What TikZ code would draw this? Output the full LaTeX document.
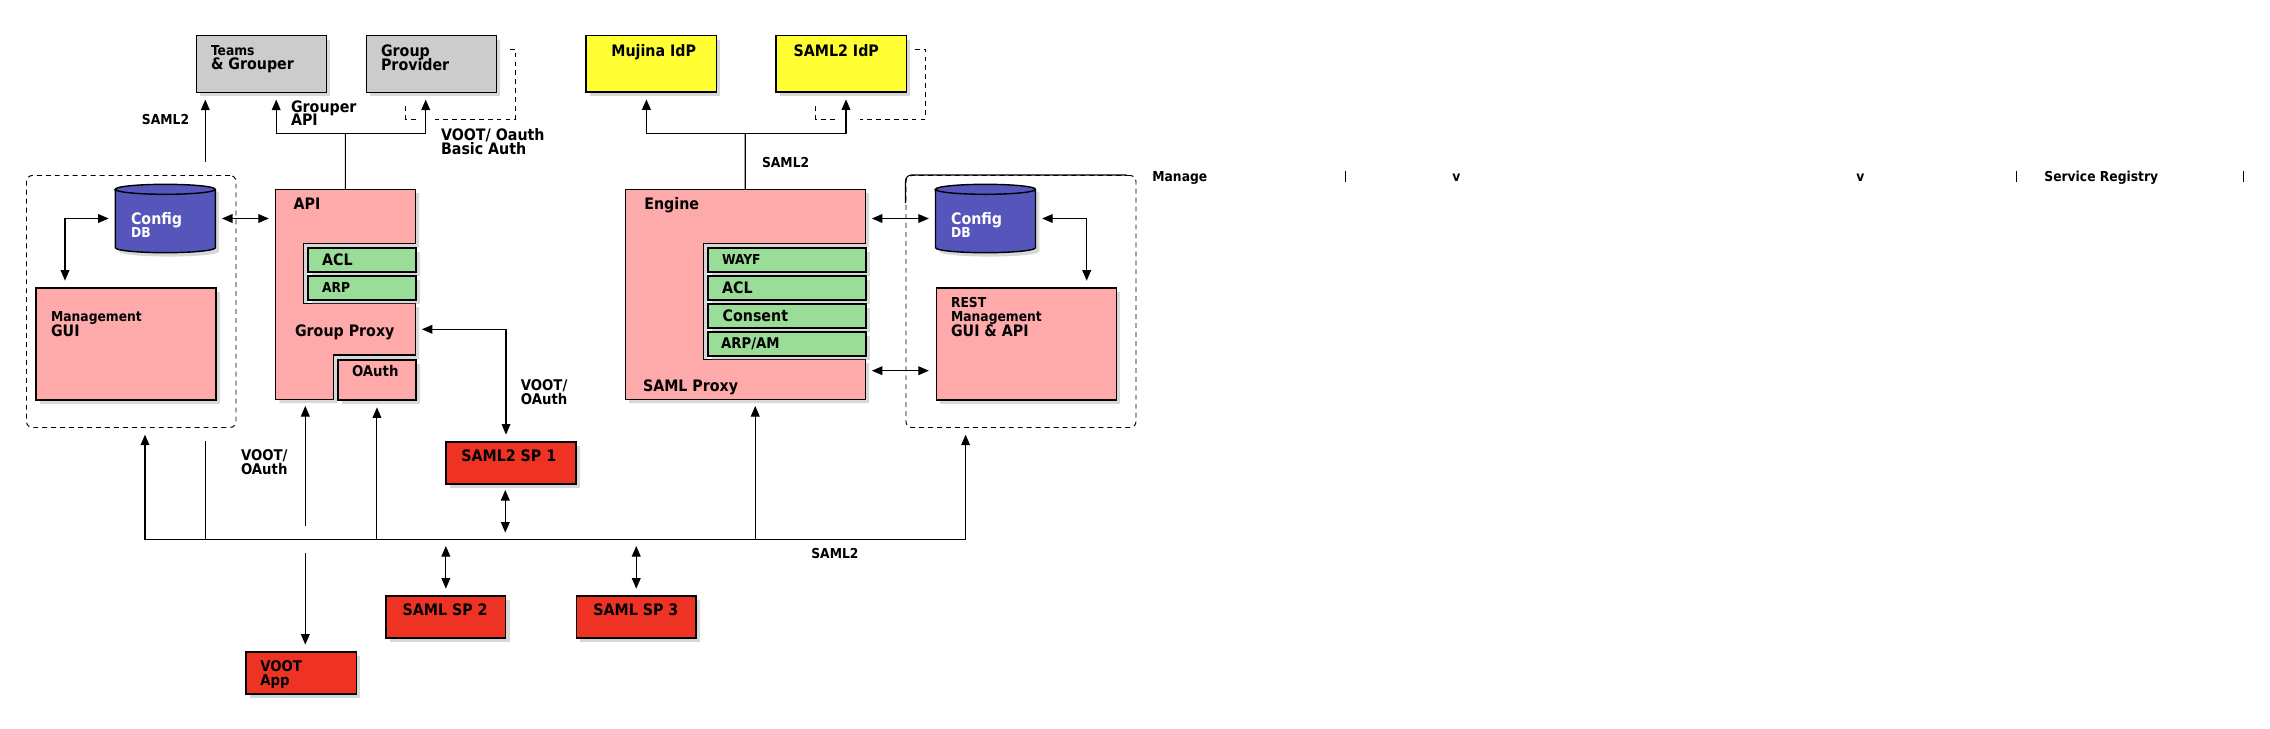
\documentclass[tikz,border=0pt]{standalone}
\usepackage{fontspec}
\setmainfont{DejaVu Sans Condensed}
\usepackage{tikz}
\usetikzlibrary{arrows.meta, positioning, shadows}
\definecolor{GroupGray}{RGB}{204,204,204}
\definecolor{IdpYellow}{RGB}{255,255,51}
\definecolor{ProxyPink}{RGB}{255,170,170}
\definecolor{PluginGreen}{RGB}{153,221,153}
\definecolor{DbBlue}{RGB}{85,85,187}
\definecolor{SpRed}{RGB}{238,51,36}
\newcommand{\lgtxt}{\fontsize{9}{7.9}\selectfont\bfseries\lineskiplimit=-50pt\lineskip=0pt}
\newcommand{\mdtxt}{\fontsize{8.4}{7.9}\selectfont\bfseries\lineskiplimit=-50pt\lineskip=0pt}
\newcommand{\smtxt}{\fontsize{7.8}{7.9}\selectfont\bfseries\lineskiplimit=-50pt\lineskip=0pt}
\tikzstyle{box} = [draw, line width=0.8pt, anchor=north west, inner sep=0pt, drop shadow={shadow xshift=2.2pt, shadow yshift=-2.2pt, opacity=0.3}]
\tikzstyle{grpbox} = [draw, dash pattern=on 2.8pt off 2.3pt, line width=0.55pt, rounded corners=3.4pt, anchor=north west, inner sep=0pt]
\tikzstyle{hold} = [anchor=north west, inner sep=0pt, outer sep=0pt]
\tikzstyle{lbl} = [anchor=north west, inner sep=0pt, align=left, font=\lgtxt]
\tikzstyle{arr} = [line width=0.6pt, -{Triangle[length=6pt,width=5pt]}, shorten >=3.8pt]
\tikzstyle{darr} = [line width=0.6pt, {Triangle[length=6pt,width=5pt]}-{Triangle[length=6pt,width=5pt]}, shorten >=3.8pt, shorten <=3.8pt]
\tikzstyle{fb} = [line width=0.5pt, dash pattern=on 2.8pt off 2.3pt]

\begin{document}
\begin{tikzpicture}[x=0.2mm, y=-0.2mm]
\fill[white] (0,0) rectangle (2270,728);
\useasboundingbox (0,0) rectangle (2270,728);

% groups
\node[grpbox, minimum width=41.9mm, minimum height=50.4mm] (grpL) at (26,175) {};
\node[grpbox, minimum width=46mm, minimum height=50.4mm] (grpR) at (905.5,175) {};
\draw[line width=0.6pt] (905.5,203) -- (905.5,181) arc[start angle=180, end angle=90, radius=1.2mm] -- (1126.7,175);

% top row
\node[box, fill=GroupGray, minimum width=26mm, minimum height=11.3mm] (teams) at (195.5,35) {};
\node[box, fill=GroupGray, minimum width=26mm, minimum height=11.3mm] (provider) at (365.5,35) {};
\node[box, fill=IdpYellow, minimum width=26.08mm, minimum height=11.26mm] (mujina) at (585.3,35) {};
\node[box, fill=IdpYellow, minimum width=26.08mm, minimum height=11.26mm] (samlidp) at (775.3,35) {};
\node[lbl, font={\lgtxt\baselineskip=8.1pt}] (teamsT) at (210.7,44.7) {{\smtxt Teams}\\\& Grouper};
\node[lbl] (providerT) at (380.7,44.2) {Group\\Provider};
\node[lbl] (mujinaT) at (611,44.2) {Mujina IdP};
\node[lbl] (samlidpT) at (793.3,44.2) {SAML2 IdP};

% config databases
\node[hold, minimum width=20mm, minimum height=13.68mm] (cfgL) at (115.3,184.3) {};
\node[hold, minimum width=20mm, minimum height=13.68mm] (cfgR) at (935.5,184.3) {};
\filldraw[fill=DbBlue, line width=0.8pt, drop shadow={shadow xshift=2.2pt, shadow yshift=-2.2pt, opacity=0.3}] (115.3,189.3) -- (115.3,247.7) arc[start angle=180, end angle=360, x radius=10mm, y radius=1mm] -- (215.3,189.3) arc[start angle=0, end angle=180, x radius=10mm, y radius=1mm] -- cycle;
\draw[line width=0.8pt] (115.3,189.3) arc[start angle=180, end angle=360, x radius=10mm, y radius=1mm];
\filldraw[fill=DbBlue, line width=0.8pt, drop shadow={shadow xshift=2.2pt, shadow yshift=-2.2pt, opacity=0.3}] (935.5,189.3) -- (935.5,247.7) arc[start angle=180, end angle=360, x radius=10mm, y radius=1mm] -- (1035.5,189.3) arc[start angle=0, end angle=180, x radius=10mm, y radius=1mm] -- cycle;
\draw[line width=0.8pt] (935.5,189.3) arc[start angle=180, end angle=360, x radius=10mm, y radius=1mm];
\node[lbl, text=white, font={\lgtxt\baselineskip=7.1pt}] (cfgLT) at (130.7,212.5) {Config\\{\smtxt DB}};
\node[lbl, text=white, font={\lgtxt\baselineskip=7.1pt}] (cfgRT) at (950.7,212.5) {Config\\{\smtxt DB}};

% management
\node[box, fill=ProxyPink, minimum width=36mm, minimum height=22.4mm] (mgmt) at (35.3,287.3) {};
\node[box, fill=ProxyPink, minimum width=36.04mm, minimum height=22.4mm] (rest) at (935.5,287.3) {};
\node[lbl, font={\lgtxt\baselineskip=8.6pt}] (mgmtT) at (50.7,310.7) {{\smtxt Management}\\GUI};
\node[lbl] (restT) at (950.7,296.7) {{\smtxt REST}\\{\smtxt Management}\\[0.7pt]GUI \& API};

% group proxy
\node[hold, minimum width=27.94mm, minimum height=42mm] (api) at (275.5,189.3) {};
\filldraw[fill=ProxyPink, line width=0.8pt, drop shadow={shadow xshift=2.2pt, shadow yshift=-2.2pt, opacity=0.3}] (275.5,189.3) -- (415.2,189.3) -- (415.2,243.3) -- (303.5,243.3) -- (303.5,303.3) -- (415.2,303.3) -- (415.2,355) -- (333.3,355) -- (333.3,399.3) -- (275.5,399.3) -- cycle;
\node[box, fill=PluginGreen, minimum width=21.58mm, minimum height=4.8mm] (aclA) at (307.3,247.3) {};
\node[box, fill=PluginGreen, minimum width=21.58mm, minimum height=4.8mm] (arpA) at (307.3,275.3) {};
\node[box, fill=ProxyPink, minimum width=15.58mm, minimum height=8mm] (oauth) at (337.3,359.3) {};
\node[lbl] (apiT) at (293.3,197.5) {API};
\node[lbl] (aclAT) at (321.7,253.2) {ACL};
\node[lbl, font=\smtxt] (arpAT) at (321.7,282) {ARP};
\node[lbl] (gproxyT) at (294.7,324.2) {Group Proxy};
\node[lbl, font=\mdtxt] (oauthT) at (351.7,365.2) {OAuth};

% saml proxy
\node[hold, minimum width=47.98mm, minimum height=42mm] (engine) at (625.3,189.3) {};
\filldraw[fill=ProxyPink, line width=0.8pt, drop shadow={shadow xshift=2.2pt, shadow yshift=-2.2pt, opacity=0.3}] (625.3,189.3) -- (865.2,189.3) -- (865.2,243.3) -- (703.3,243.3) -- (703.3,359.3) -- (865.2,359.3) -- (865.2,399.3) -- (625.3,399.3) -- cycle;
\node[box, fill=PluginGreen, minimum width=31.58mm, minimum height=4.8mm] (wayf) at (707.3,247.3) {};
\node[box, fill=PluginGreen, minimum width=31.58mm, minimum height=4.8mm] (aclB) at (707.3,275.3) {};
\node[box, fill=PluginGreen, minimum width=31.58mm, minimum height=4.8mm] (consent) at (707.3,303.3) {};
\node[box, fill=PluginGreen, minimum width=31.58mm, minimum height=4.8mm] (arpB) at (707.3,331.3) {};
\node[lbl] (engineT) at (644,197.5) {Engine};
\node[lbl, font=\smtxt] (wayfT) at (721.7,254) {WAYF};
\node[lbl] (aclBT) at (721.7,281.2) {ACL};
\node[lbl] (consentT) at (722.3,309.8) {Consent};
\node[lbl, font=\mdtxt] (arpBT) at (720.7,337.7) {ARP/AM};
\node[lbl] (sproxyT) at (642.7,379.8) {SAML Proxy};

% service providers
\node[box, fill=SpRed, minimum width=26mm, minimum height=8.4mm] (sp1) at (445.3,441.3) {};
\node[box, fill=SpRed, minimum width=23.94mm, minimum height=8.4mm] (sp2) at (385.3,595.3) {};
\node[box, fill=SpRed, minimum width=23.86mm, minimum height=8.4mm] (sp3) at (575.9,595.3) {};
\node[box, fill=SpRed, minimum width=22.08mm, minimum height=8.4mm] (voot) at (245.3,651.3) {};
\node[lbl] (sp1T) at (461,449.8) {SAML2 SP 1};
\node[lbl] (sp2T) at (402.3,603.5) {SAML SP 2};
\node[lbl] (sp3T) at (593,603.5) {SAML SP 3};
\node[lbl, font={\mdtxt\baselineskip=7.7pt}] (vootT) at (260,660.3) {VOOT\\App};

% connector labels
\node[lbl, font=\smtxt] (samlA) at (141.6,114.3) {SAML2};
\node[lbl, font={\lgtxt\baselineskip=7.5pt}] (grouperT) at (290.7,100.2) {Grouper\\API};
\node[lbl, font={\lgtxt\baselineskip=7.8pt}] (vootA) at (440.7,128.2) {VOOT/ Oauth\\Basic Auth};
\node[lbl, font=\smtxt] (samlB) at (761.7,156.7) {SAML2};
\node[lbl, font={\mdtxt\baselineskip=7.5pt}] (vootB) at (520.5,379.6) {VOOT/\\OAuth};
\node[lbl, font={\mdtxt\baselineskip=7.9pt}] (vootC) at (240.7,449.6) {VOOT/\\OAuth};
\node[lbl, font=\smtxt] (samlC) at (811,548.3) {SAML2};

% registry header
\node[anchor=base west, inner sep=0pt, font=\smtxt] (hdrA) at (1152,181.7) {Manage};
\node[anchor=base west, inner sep=0pt, font=\smtxt] (hdrB) at (1452,181.7) {v};
\node[anchor=base west, inner sep=0pt, font=\smtxt] (hdrC) at (1856,181.7) {v};
\node[anchor=base west, inner sep=0pt, font=\smtxt] (hdrD) at (2044,181.7) {Service Registry};
\foreach \xb in {1345,2016,2243}
  \draw[line width=0.5pt] (\xb,170.7) -- (\xb,181.7);

% connectors
\coordinate (tsamlTop) at (205.3,161.7);
\coordinate (tsamlBot) at (205.3,441.3);
\coordinate (busL) at (145,539.3);
\coordinate (busR) at (965.6,539.3);
\coordinate (gfork) at (345.35,133.3);
\coordinate (efork) at (745.25,133.3);
\coordinate (gpE) at (415.2,329.3);
\coordinate (spE) at (865.2,370.7);
\coordinate (vootUp) at (305.3,525.7);
\coordinate (vootDn) at (305.3,553.3);
\coordinate (engS) at (755.25,399.3);
\coordinate (sp1S) at (505.3,483.3);
\coordinate (gpvA) at (510,49.3);
\coordinate (gpvB) at (415.7,119);
\coordinate (idpA) at (915,49.3);
\coordinate (idpB) at (835,119);

\draw[arr] (tsamlTop) -- (teams.south -| tsamlTop);
\draw[line width=0.6pt] (busL -| tsamlBot) -- (tsamlBot);
\draw[line width=0.6pt] (api.north) -- (gfork);
\draw[arr] (gfork) -| ([xshift=3mm]teams.south);
\draw[arr] (gfork) -| ([xshift=-1.1mm]provider.south);
\draw[line width=0.6pt] (engine.north) -- (efork);
\draw[arr] (efork) -| ([xshift=-0.96mm]mujina.south);
\draw[arr] (efork) -| ([xshift=0.96mm]samlidp.south);
\draw[fb] (gpvA) -| (515.7,119) -- (435,119);
\draw[fb] (gpvB) -| (405.7,105);
\draw[fb] (idpA) -| (925.7,119) -- (860,119);
\draw[fb] (idpB) -| (815.7,106);

\draw[darr] (cfgL.west) -| ([xshift=5.94mm]mgmt.north west);
\draw[darr] (cfgL.east) -- (api.west |- cfgL.east);
\draw[darr] (engine.east |- cfgR.west) -- (cfgR.west);
\draw[darr] (spE) -- (rest.west |- spE);
\draw[darr] (cfgR.east) -| ([xshift=-6.08mm]rest.north east);
\draw[darr] (gpE) -| ([xshift=-1mm]sp1.north);

\draw[arr] (busR) -- (busL) -- (grpL.south -| busL);
\draw[arr] (busR) -- (grpR.south -| busR);
\draw[arr] (busL -| oauth.south) -- (oauth.south);
\draw[arr] (busL -| engS) -- (engS);
\draw[arr] (vootUp) -- (api.south -| vootUp);
\draw[arr] (vootDn) -- (voot.north -| vootDn);
\draw[darr] (sp1S) -- (busL -| sp1S);
\draw[darr] (busL -| sp2.north) -- (sp2.north);
\draw[darr] (busL -| sp3.north) -- (sp3.north);
\end{tikzpicture}
\end{document}
